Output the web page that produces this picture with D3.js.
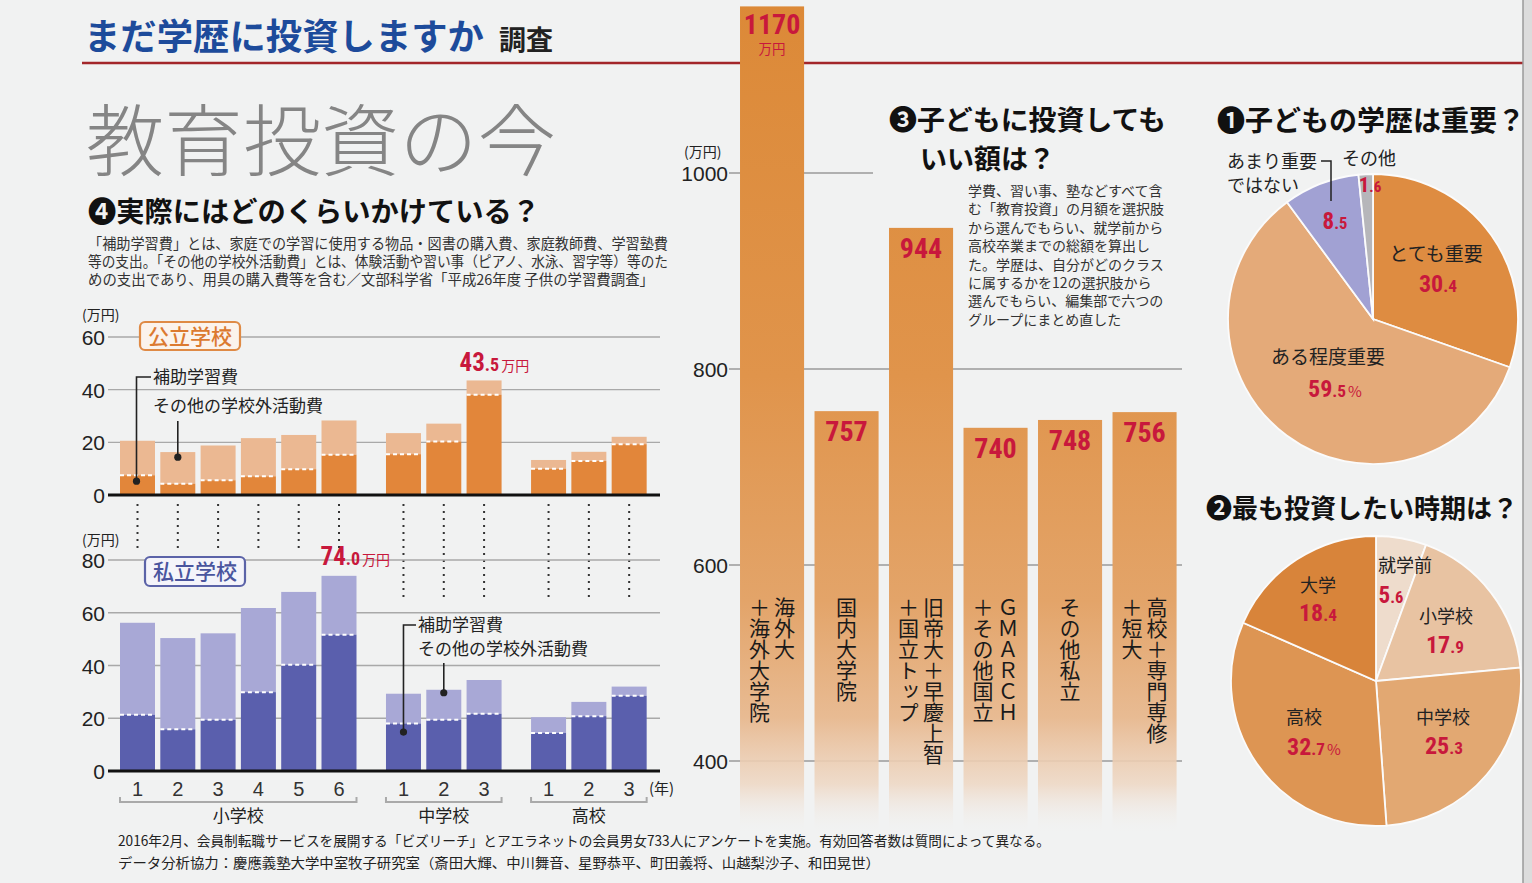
<!DOCTYPE html>
<html><head><meta charset="utf-8">
<script src="https://cdn.jsdelivr.net/npm/d3@7"></script>
<style>
html,body{margin:0;padding:0;background:#f1f2f2;overflow:hidden;}
svg{display:block;}
.vt{writing-mode:vertical-rl;text-orientation:upright;}
</style></head><body>
<svg id="c" width="1532" height="883"></svg>
<script>
// ---------------- DATA ----------------
const gradeLabels = ["1","2","3","4","5","6","1","2","3","1","2","3"];
const schoolLevel = [0,0,0,0,0,0,1,1,1,2,2,2];
const levelNames = ["小学校","中学校","高校"];
const publicHojo  = [7.5,4.3,5.6,7.1,9.8,15.3,15.5,20.3,38.1,10.0,12.9,19.3];
const publicOther = [13.1,12.0,13.2,14.5,13.0,13.0,8.0,6.8,5.4,3.3,3.5,2.8];
const privateHojo  = [21.3,15.8,19.4,29.9,40.3,51.7,18.0,19.4,21.7,14.4,20.8,28.5];
const privateOther = [34.9,34.6,32.8,31.9,27.6,22.3,11.3,11.4,12.8,6.0,5.4,3.5];
const publicTicks = [0,20,40,60];
const privateTicks = [0,20,40,60,80];

const investGroups = [["海外大","＋海外大学院"],["国内大学院"],["旧帝大＋早慶上智","＋国立トップ"],["ＧＭＡＲＣＨ","＋その他国立"],["その他私立"],["高校＋専門専修","＋短大"]];
const investValues = [1170,757,944,740,748,756];
const investTicks = [400,600,800,1000];

const importanceLabels = ["とても重要","ある程度重要","あまり重要ではない","その他"];
const importanceValues = [30.4,59.5,8.5,1.6];
const periodLabels = ["就学前","小学校","中学校","高校","大学"];
const periodValues = [5.6,17.9,25.3,32.7,18.4];

// ---------------- STYLE ----------------
const JP = "'Noto Sans CJK JP','Noto Sans CJK SC',sans-serif";
const NUM = "'Liberation Sans Narrow','Arial Narrow','Roboto Condensed','Liberation Sans',sans-serif";
const AX = "'Liberation Sans',Arial,sans-serif";
const RED = "#c8183c";
const TXT = "#222";

const svg = d3.select("#c");
const defs = svg.append("defs");

function txt(g, x, y, s, size, opts) {
  opts = opts || {};
  const t = g.append("text").attr("x", x).attr("y", y)
    .attr("font-family", opts.family || JP)
    .attr("font-size", size)
    .attr("font-weight", opts.weight || 400)
    .attr("fill", opts.fill || TXT)
    .attr("text-anchor", opts.anchor || "start")
    .text(s);
  if (opts.len) t.attr("textLength", opts.len).attr("lengthAdjust", "spacingAndGlyphs");
  return t;
}
function redNum(g, x, y, value, size, suffix, anchor, suffixSize) {
  const parts = value.toString().split(".");
  const t = g.append("text").attr("x", x).attr("y", y)
    .attr("text-anchor", anchor || "middle").attr("fill", RED)
    .attr("font-family", NUM).attr("font-weight", 700);
  t.append("tspan").attr("font-size", size).text(parts[0]);
  if (parts.length > 1) t.append("tspan").attr("font-size", size * 0.72).text("." + parts[1]);
  if (suffix) t.append("tspan").attr("font-size", suffixSize || size * 0.6).attr("font-family", JP)
      .attr("font-weight", 400).attr("dx", 2).text(suffix);
  return t;
}

// ---------------- HEADER ----------------
txt(svg, 84, 50, "まだ学歴に投資しますか", 36, {weight: 700, fill: "#1d4b9b", len: 400});
txt(svg, 499, 50, "調査", 27, {weight: 700, fill: "#222"});
svg.append("line").attr("x1", 82).attr("x2", 1525).attr("y1", 63).attr("y2", 63)
  .attr("stroke", "#a3262a").attr("stroke-width", 2.5);

txt(svg, 86, 170, "教育投資の今", 78, {weight: 300, fill: "#858585", len: 470});
txt(svg, 88, 222, "❹実際にはどのくらいかけている？", 28, {weight: 700, fill: "#111", len: 452});
const desc4 = [
  "「補助学習費」とは、家庭での学習に使用する物品・図書の購入費、家庭教師費、学習塾費",
  "等の支出。「その他の学校外活動費」とは、体験活動や習い事（ピアノ、水泳、習字等）等のた",
  "めの支出であり、用具の購入費等を含む／文部科学省「平成26年度 子供の学習費調査」"];
const descLen = [580, 580, 566];
desc4.forEach((s, i) => txt(svg, 88, 249 + i * 18, s, 14.5, {fill: "#333", len: descLen[i]}));

// ---------------- CHART 4 (public / private) ----------------
const slot = i => i + 0.6 * schoolLevel[i];
const xLin = d3.scaleLinear().domain([0, 1]).range([120, 160.3]);
const barW = 35;
const xc = i => xLin(slot(i)) + barW / 2;
const gridX0 = 108, gridX1 = 660;

function stackChart(yScale, ticks, hojo, other, cDark, cLight, topLabelOffset) {
  const g = svg.append("g");
  g.selectAll(".grid").data(ticks.filter(t => t > 0)).join("line")
    .attr("x1", gridX0).attr("x2", gridX1).attr("y1", d => yScale(d)).attr("y2", d => yScale(d))
    .attr("stroke", "#a9a9a9").attr("stroke-width", 1.4);
  const ax = d3.axisLeft(yScale).tickValues(ticks).tickSize(0).tickPadding(0).tickFormat(d3.format("d"));
  const axg = g.append("g").attr("transform", `translate(${gridX0 - 3},0)`).call(ax);
  axg.select(".domain").remove();
  axg.selectAll("text").attr("font-family", AX).attr("font-size", 21).attr("fill", TXT).attr("dy", "0.36em");
  const idx = d3.range(hojo.length);
  g.selectAll(".bo").data(idx).join("rect")
    .attr("x", i => xLin(slot(i))).attr("width", barW)
    .attr("y", i => yScale(hojo[i] + other[i]))
    .attr("height", i => yScale(hojo[i]) - yScale(hojo[i] + other[i]))
    .attr("fill", cLight);
  g.selectAll(".bh").data(idx).join("rect")
    .attr("x", i => xLin(slot(i))).attr("width", barW)
    .attr("y", i => yScale(hojo[i]))
    .attr("height", i => yScale(0) - yScale(hojo[i]))
    .attr("fill", cDark);
  g.selectAll(".dash").data(idx).join("line")
    .attr("x1", i => xLin(slot(i))).attr("x2", i => xLin(slot(i)) + barW)
    .attr("y1", i => yScale(hojo[i])).attr("y2", i => yScale(hojo[i]))
    .attr("stroke", "#fff").attr("stroke-width", 2).attr("stroke-dasharray", "4,3");
  g.append("line").attr("x1", gridX0).attr("x2", gridX1).attr("y1", yScale(0)).attr("y2", yScale(0))
    .attr("stroke", "#111").attr("stroke-width", 3);
  const totals = idx.map(i => hojo[i] + other[i]);
  const mi = d3.maxIndex(totals);
  redNum(g, xLin(slot(mi)) + topLabelOffset[0], yScale(totals[mi]) + topLabelOffset[1],
    totals[mi].toFixed(1), 25, "万円", "start", 14);
  return g;
}

const yPub = d3.scaleLinear().domain([0, 60]).range([495, 337]);
const yPri = d3.scaleLinear().domain([0, 80]).range([771, 560]);

svg.append("g").selectAll("line").data(d3.range(12)).join("line")
  .attr("x1", xc).attr("x2", xc)
  .attr("y1", yPub(0) + 9).attr("y2", i => schoolLevel[i] === 0 ? 548 : 602)
  .attr("stroke", "#333").attr("stroke-width", 2).attr("stroke-dasharray", "2,5");

stackChart(yPub, publicTicks, publicHojo, publicOther, "#e2863a", "#ebb892", [-7, -9]);
stackChart(yPri, privateTicks, privateHojo, privateOther, "#5a5fad", "#a8a8d6", [-1, -11]);

txt(svg, 82, 320, "(万円)", 14, {fill: TXT});
txt(svg, 82, 545, "(万円)", 14, {fill: TXT});

function tagBox(x, y, w, h, label, stroke, fill, tfill) {
  svg.append("rect").attr("x", x).attr("y", y).attr("width", w).attr("height", h).attr("rx", 5)
    .attr("fill", fill).attr("stroke", stroke).attr("stroke-width", 2.2);
  txt(svg, x + w / 2, y + h / 2 + 7.5, label, 21, {fill: tfill, anchor: "middle", weight: 500});
}
tagBox(140, 322, 100, 28, "公立学校", "#df8a45", "#fbf3ec", "#dc7a30");
tagBox(145, 557, 100, 29, "私立学校", "#5b63a8", "#f4f4fa", "#4a559e");

function leader(path, dx, dy) {
  svg.append("path").attr("d", path).attr("fill", "none").attr("stroke", "#222").attr("stroke-width", 1.6);
  svg.append("circle").attr("cx", dx).attr("cy", dy).attr("r", 3.6).attr("fill", "#222");
}
{
  const d1y = yPub(publicHojo[0] * 0.7), d2y = yPub(publicHojo[1] + publicOther[1] * 0.84);
  leader(`M151,377H${xc(0) - 1}V${d1y}`, xc(0) - 1, d1y);
  leader(`M${xc(1)},421V${d2y}`, xc(1), d2y);
  txt(svg, 153, 383, "補助学習費", 17);
  txt(svg, 153, 412, "その他の学校外活動費", 17);
  const p1y = yPri(privateHojo[6] * 0.82), p2y = yPri(privateHojo[7] + privateOther[7] * 0.9);
  leader(`M416,625H${xc(6)}V${p1y}`, xc(6), p1y);
  leader(`M${xc(7)},663V${p2y}`, xc(7), p2y);
  txt(svg, 418, 631, "補助学習費", 17);
  txt(svg, 418, 655, "その他の学校外活動費", 17);
}

const xl = svg.append("g");
xl.selectAll("text").data(d3.range(12)).join("text")
  .attr("x", xc).attr("y", 796).attr("text-anchor", "middle")
  .attr("font-family", AX).attr("font-size", 20).attr("fill", "#333").text(i => gradeLabels[i]);
levelNames.forEach((name, L) => {
  const ids = d3.range(12).filter(i => schoolLevel[i] === L);
  const x0 = xLin(slot(ids[0])), x1 = xLin(slot(ids[ids.length - 1])) + barW;
  xl.append("path").attr("d", `M${x0},797V802H${x1}V797`).attr("fill", "none")
    .attr("stroke", "#aaa").attr("stroke-width", 2);
  txt(xl, (x0 + x1) / 2, 822, name, 17, {anchor: "middle"});
});
txt(svg, 649, 794, "(年)", 15);

txt(svg, 118, 846, "2016年2月、会員制転職サービスを展開する「ビズリーチ」とアエラネットの会員男女733人にアンケートを実施。有効回答者数は質問によって異なる。", 14, {len: 932});
txt(svg, 118, 868, "データ分析協力：慶應義塾大学中室牧子研究室（斎田大輝、中川舞音、星野恭平、町田義将、山越梨沙子、和田晃世）", 14, {len: 762});

// ---------------- CHART 3 (investment by education) ----------------
const yMid = d3.scaleLinear().domain([400, 1000]).range([761, 173]);
const fadeValue = 325;
const xMid = d3.scaleBand().domain(d3.range(6)).range([734.8, 1181.8]).paddingInner(0.14).paddingOuter(0.07);

const gMid = svg.append("g");
investTicks.forEach(t => {
  gMid.append("line").attr("x1", 729).attr("x2", t === 1000 ? 873 : 1182)
    .attr("y1", yMid(t)).attr("y2", yMid(t)).attr("stroke", "#9a9a9a").attr("stroke-width", 1.3);
});
const axM = d3.axisLeft(yMid).tickValues(investTicks).tickSize(0).tickFormat(d3.format("d"));
const axMg = gMid.append("g").attr("transform", "translate(729,0)").call(axM);
axMg.select(".domain").remove();
axMg.selectAll("text").attr("font-family", AX).attr("font-size", 21).attr("fill", TXT).attr("dy", "0.36em").attr("x", -1);
txt(svg, 684, 157, "(万円)", 14);

const grad = defs.append("linearGradient").attr("id", "bg").attr("gradientUnits", "userSpaceOnUse")
  .attr("x1", 0).attr("y1", 0).attr("x2", 0).attr("y2", yMid(fadeValue));
[[0, "#dc8937", 1], [0.45, "#e0944b", 1], [0.72, "#e3a469", 1], [0.86, "#e8bb93", 1], [0.94, "#eed7c3", 0.85], [1, "#f1f2f2", 0]]
  .forEach(s => grad.append("stop").attr("offset", s[0]).attr("stop-color", s[1]).attr("stop-opacity", s[2]));

gMid.selectAll(".mb").data(d3.range(6)).join("rect")
  .attr("x", i => xMid(i)).attr("width", xMid.bandwidth())
  .attr("y", i => yMid(investValues[i]))
  .attr("height", i => yMid(fadeValue) - yMid(investValues[i]))
  .attr("fill", "url(#bg)");

investValues.forEach((v, i) => {
  const cx = xMid(i) + xMid.bandwidth() / 2;
  gMid.append("text").attr("x", cx).attr("y", yMid(v) + (i === 0 ? 28 : 30)).attr("text-anchor", "middle")
    .attr("font-family", NUM).attr("font-weight", 700).attr("font-size", 28).attr("fill", RED).text(v);
  if (i === 0) txt(gMid, cx, yMid(v) + 48, "万円", 13.5, {anchor: "middle", fill: RED});
  const cols = investGroups[i];
  cols.forEach((col, j) => {
    const dx = cols.length === 2 ? (j === 0 ? 12.5 : -12.5) : 0;
    gMid.append("text").attr("class", "vt")
      .attr("x", cx + dx).attr("y", 597)
      .attr("font-family", JP).attr("font-size", 21).attr("fill", "#1a1a1a").text(col);
  });
});

txt(svg, 889, 130, "❸子どもに投資しても", 27, {weight: 700, fill: "#111", len: 277});
txt(svg, 920, 169, "いい額は？", 27, {weight: 700, fill: "#111"});
const desc3 = ["学費、習い事、塾などすべて含", "む「教育投資」の月額を選択肢", "から選んでもらい、就学前から",
  "高校卒業までの総額を算出し", "た。学歴は、自分がどのクラス", "に属するかを12の選択肢から",
  "選んでもらい、編集部で六つの", "グループにまとめ直した"];
desc3.forEach((s, i) => txt(svg, 968, 196 + i * 18.4, s, 14, {fill: "#333"}));

// ---------------- PIES ----------------
function pieChart(cx, cy, r, values, colors) {
  const g = svg.append("g").attr("transform", `translate(${cx},${cy})`);
  const arcs = d3.pie().sort(null).value(d => d)(values);
  const arc = d3.arc().innerRadius(0).outerRadius(r);
  g.selectAll("path").data(arcs).join("path").attr("d", arc)
    .attr("fill", (d, i) => colors[i]).attr("stroke", "#fbfbfb").attr("stroke-width", 1.8);
  return g;
}
txt(svg, 1217, 131, "❶子どもの学歴は重要？", 28, {weight: 700, fill: "#111"});
pieChart(1373, 319, 145, importanceValues, ["#de8c41", "#e4aa79", "#a1a1d3", "#b6b6ba"]);
txt(svg, 1436, 261, importanceLabels[0], 19, {anchor: "middle"});
redNum(svg, 1438, 292, importanceValues[0], 24);
txt(svg, 1328, 364, importanceLabels[1], 19, {anchor: "middle"});
redNum(svg, 1335, 397, importanceValues[1], 24, "%", "middle", 15);
txt(svg, 1227, 168, "あまり重要", 18);
txt(svg, 1227, 192, "ではない", 18);
svg.append("path").attr("d", "M1321,161H1331V201").attr("fill", "none").attr("stroke", "#222").attr("stroke-width", 1.5);
redNum(svg, 1335, 229, importanceValues[2], 23);
txt(svg, 1369, 165, importanceLabels[3], 18, {anchor: "middle"});
redNum(svg, 1370, 192, importanceValues[3], 21);

txt(svg, 1206, 518, "❷最も投資したい時期は？", 26, {weight: 700, fill: "#111"});
pieChart(1376, 681, 145, periodValues, ["#eedccc", "#e8c3a2", "#e2a872", "#dd9553", "#d8843a"]);
txt(svg, 1405, 572, periodLabels[0], 18, {anchor: "middle"});
redNum(svg, 1391, 603, periodValues[0], 23);
txt(svg, 1446, 623, periodLabels[1], 18, {anchor: "middle"});
redNum(svg, 1445, 653, periodValues[1], 24);
txt(svg, 1443, 724, periodLabels[2], 18, {anchor: "middle"});
redNum(svg, 1444, 754, periodValues[2], 24);
txt(svg, 1304, 724, periodLabels[3], 18, {anchor: "middle"});
redNum(svg, 1314, 755, periodValues[3], 24, "%", "middle", 15);
txt(svg, 1318, 592, periodLabels[4], 18, {anchor: "middle"});
redNum(svg, 1318, 621, periodValues[4], 24);

svg.append("rect").attr("x", 1523).attr("y", 0).attr("width", 9).attr("height", 883).attr("fill", "#dcdcdc");
svg.append("line").attr("x1", 1523).attr("x2", 1523).attr("y1", 0).attr("y2", 883).attr("stroke", "#9a9a9a").attr("stroke-width", 1.5);
</script>
</body></html>
